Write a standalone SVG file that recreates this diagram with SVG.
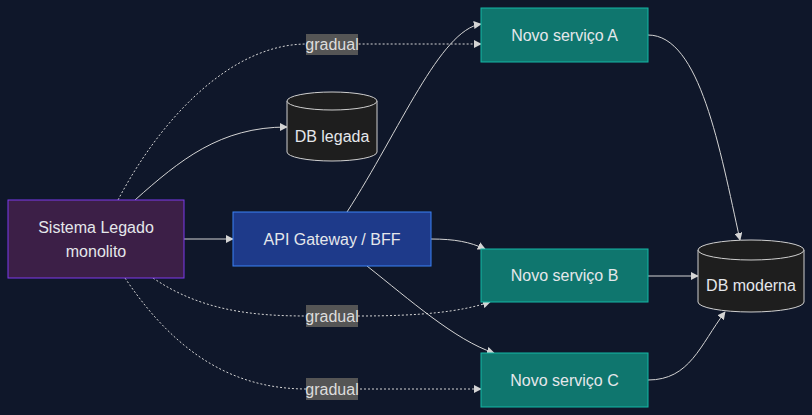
<svg xmlns="http://www.w3.org/2000/svg" width="812" height="415" viewBox="0 0 812 415">
<style>
text{font-family:"Liberation Sans",Arial,sans-serif;font-size:16px;fill:#e5e7eb;text-anchor:middle;dominant-baseline:central}
.e{fill:none;stroke:#d4d4d4;stroke-width:1}
.d{stroke-dasharray:2 2}
.svc{fill:#0f766e;stroke:#14b8a6}
.db{fill:#1e1e1e;stroke:#cfcfcf}
.lb{fill:#555}
.lt{fill:#ddd}
</style>
<defs><marker id="a" viewBox="0 0 10 10" refX="9" refY="5" markerWidth="8" markerHeight="8" orient="auto"><path d="M0,0L10,5L0,10z" fill="#d4d4d4"/></marker></defs>
<rect width="812" height="415" fill="#0f172a"/>
<g id="connectors">
<path class="e d" d="M118,200C160,120 230,44 307,44L481,44" marker-end="url(#a)"/>
<path class="e" d="M135,200C180,160 220,127 287,127" marker-end="url(#a)"/>
<path class="e" d="M184,239L233,239" marker-end="url(#a)"/>
<path class="e" d="M347,212C400,130 440,30 481,24" marker-end="url(#a)"/>
<path class="e" d="M431,239C455,239 470,242 485,249" marker-end="url(#a)"/>
<path class="e" d="M367,266C410,300 455,340 494,353" marker-end="url(#a)"/>
<path class="e d" d="M153,278C200,310 250,316 307,316L358,316C420,316 460,312 490,302" marker-end="url(#a)"/>
<path class="e d" d="M125,278C180,360 240,389 307,389L481,389" marker-end="url(#a)"/>
<path class="e" d="M648,35C700,35 720,150 740,240" marker-end="url(#a)"/>
<path class="e" d="M648,276L698,276" marker-end="url(#a)"/>
<path class="e" d="M648,380C690,380 700,345 725,312" marker-end="url(#a)"/>
<rect class="lb" x="306" y="34" width="52" height="21"/><text class="lt" x="332" y="44.5">gradual</text>
<rect class="lb" x="306" y="305" width="52" height="22"/><text class="lt" x="332" y="316">gradual</text>
<rect class="lb" x="306" y="378" width="52" height="22"/><text class="lt" x="332" y="389">gradual</text>
</g>
<g id="legacy"><rect x="8" y="200" width="176" height="78" fill="#3c1f47" stroke="#7c3aed"/><text x="96" y="227">Sistema Legado</text><text x="96" y="251">monolito</text></g>
<g id="gateway"><rect x="233" y="212" width="198" height="54" fill="#1e3a8a" stroke="#3b82f6"/><text x="332" y="239">API Gateway / BFF</text></g>
<g id="svcA"><rect class="svc" x="481" y="8" width="167" height="54"/><text x="564.5" y="35">Novo serviço A</text></g>
<g id="svcB"><rect class="svc" x="481" y="249" width="167" height="53"/><text x="564.5" y="275.5">Novo serviço B</text></g>
<g id="svcC"><rect class="svc" x="481" y="353" width="167" height="54"/><text x="564.5" y="380">Novo serviço C</text></g>
<g id="dbLegada"><path class="db" d="M287,101A45,9 0 0 1 377,101L377,152A45,9 0 0 1 287,152Z"/><path class="db" d="M287,101A45,9 0 0 0 377,101"/><text x="332" y="136">DB legada</text></g>
<g id="dbModerna"><path class="db" d="M698,250A53,10 0 0 1 804,250L804,302A53,10 0 0 1 698,302Z"/><path class="db" d="M698,250A53,10 0 0 0 804,250"/><text x="751" y="285">DB moderna</text></g>
</svg>
